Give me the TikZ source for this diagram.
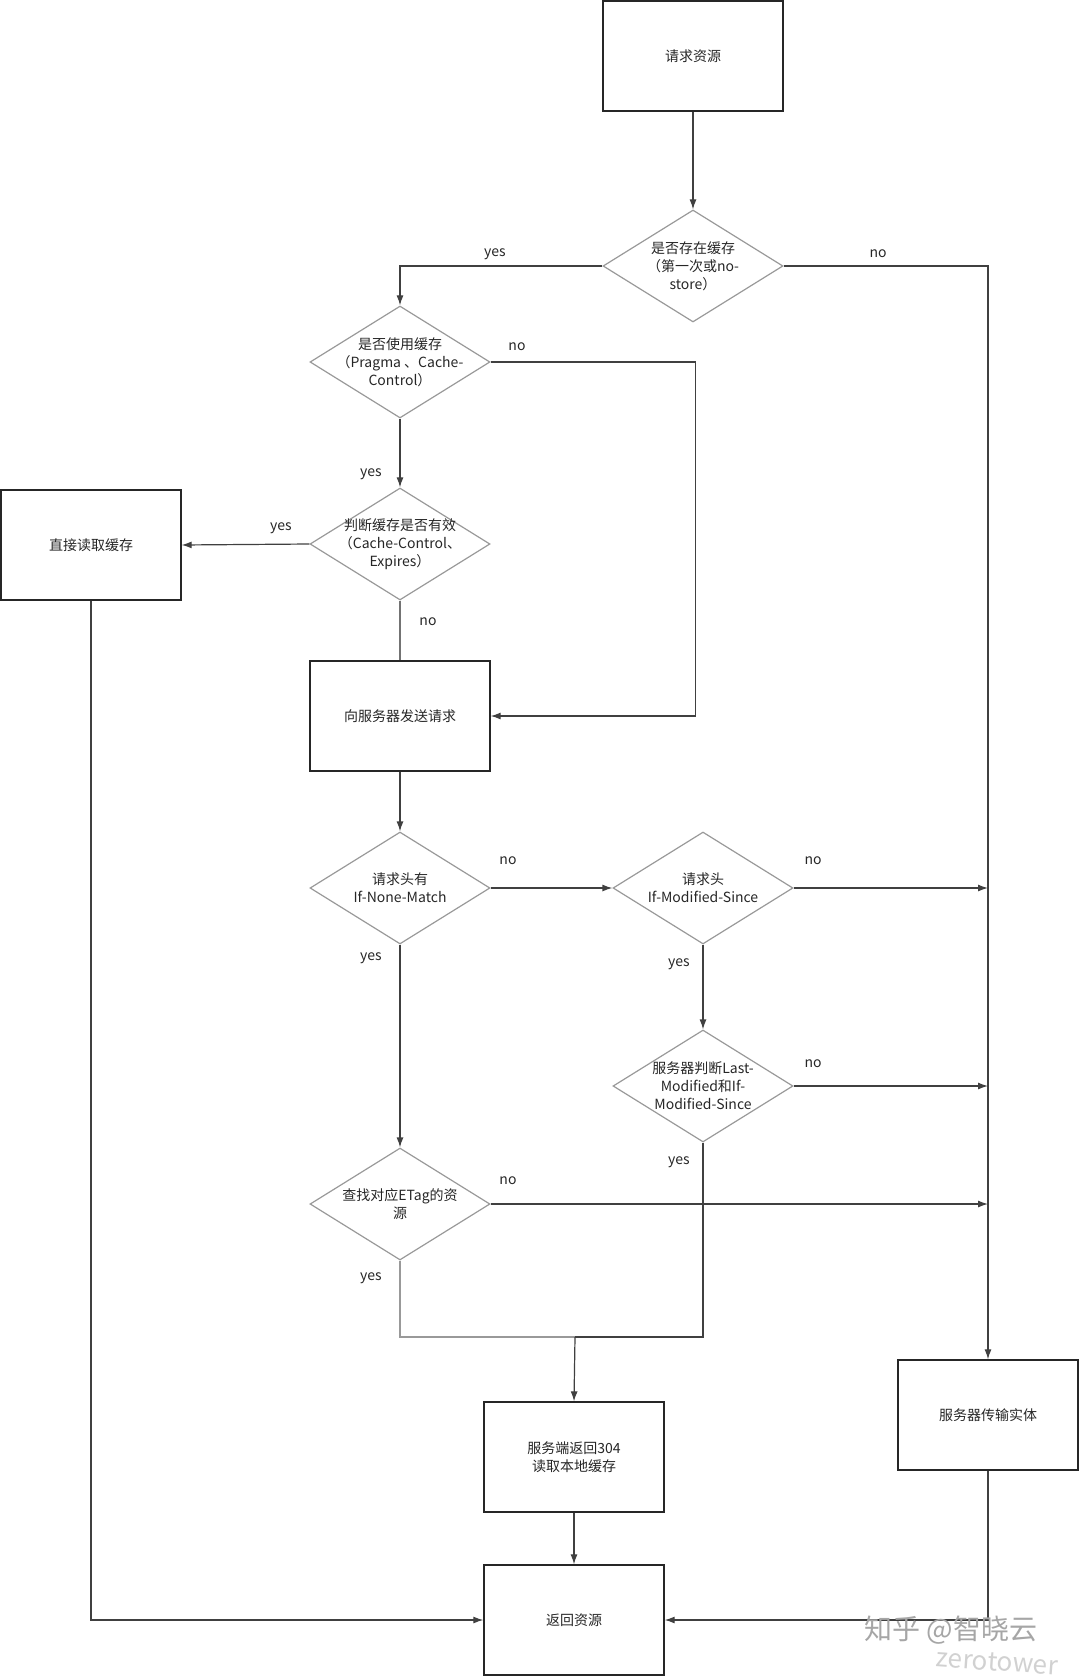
\documentclass[tikz,border=0pt]{standalone}
\usepackage{fontspec}
\setmainfont{Noto Sans CJK SC}
\usetikzlibrary{shapes.geometric,arrows.meta}

\begin{document}
\begin{tikzpicture}[x=1pt, y=-1pt, font=\fontsize{14}{18}\selectfont, >={Latex[length=10pt,width=7pt]}]
      \tikzset{
	  stepbox/.style={rectangle, draw=black!85, line width=1.3pt, minimum width=180pt, minimum height=110pt, align=center, text=black!85},
	  decision/.style={diamond, draw=black!40, line width=1.2pt, minimum width=180pt, minimum height=112pt, inner sep=0pt, label={[align=center, text=black!85]center:#1}},
	  wire/.style={draw=black!75, line width=1.2pt},
	  answer/.style={text=black!85, inner sep=1pt}
      }
      \useasboundingbox (0,0) rectangle (1080,1677);

      % boxes
      \node at (693, 56) [stepbox] (req) {请求资源};
      \node at (91, 545) [stepbox] (direct) {直接读取缓存};
      \node at (400, 716) [stepbox] (send) {向服务器发送请求};
      \node at (574, 1457) [stepbox] (r304) {服务端返回304\\读取本地缓存};
      \node at (574, 1620) [stepbox] (ret) {返回资源};
      \node at (988, 1415) [stepbox] (entity) {服务器传输实体};

      % decisions
      \node at (693, 266) [decision={是否存在缓存\\（第一次或no-\\store）}] (exist) {};
      \node at (400, 362) [decision={是否使用缓存\\（Pragma 、Cache-\\Control）}] (use) {};
      \node at (400, 544) [decision={判断缓存是否有效\\（Cache-Control、\\Expires）}] (valid) {};
      \node at (400, 888) [decision={请求头有\\If-None-Match}] (inm) {};
      \node at (703, 888) [decision={请求头\\If-Modified-Since}] (ims) {};
      \node at (703, 1086) [decision={服务器判断Last-\\Modified和If-\\Modified-Since}] (lm) {};
      \node at (400, 1204) [decision={查找对应ETag的资\\源}] (etag) {};

      % connectors
      \draw[wire,->] (req) -- (exist);
      \draw[wire,->] (exist.west) -| (use.north);
      \draw[wire,->] (exist.east) -| (entity.north);
      \draw[wire,->] (use.east) -- ++(205,0) |- (send.east);
      \draw[wire,->] (use) -- (valid);
      \draw[wire,->] (valid.west) -- (direct.east);
      \draw[wire,draw=black!55] (valid) -- (send);
      \draw[wire,->] (send) -- (inm);
      \draw[wire,->] (inm) -- (ims);
      \draw[wire,->] (ims.east) -- (ims.east -| entity);
      \draw[wire,->] (inm) -- (etag);
      \draw[wire,->] (ims) -- (lm);
      \draw[wire,->] (lm.east) -- (lm.east -| entity);
      \draw[wire,->] (etag.east) -- (etag.east -| entity);
      \coordinate (join) at (575, 1337);
      \draw[wire,draw=black!40] (etag.south) |- (join);
      \draw[wire] (lm.south) |- (join);
      \draw[wire,->] (join) -- (r304.north);
      \draw[wire,->] (r304) -- (ret);
      \draw[wire,->] (direct.south) |- (ret.west);
      \draw[wire,->] (entity.south) |- (ret.east);

      % yes / no
      \node at (495, 254) [answer] (a1) {yes};
      \node at (878, 254) [answer] (a2) {no};
      \node at (517, 347) [answer] (a3) {no};
      \node at (371, 474) [answer] (a4) {yes};
      \node at (281, 528) [answer] (a5) {yes};
      \node at (428, 622) [answer] (a6) {no};
      \node at (508, 861) [answer] (a7) {no};
      \node at (813, 861) [answer] (a8) {no};
      \node at (371, 958) [answer] (a9) {yes};
      \node at (679, 964) [answer] (a10) {yes};
      \node at (813, 1064) [answer] (a11) {no};
      \node at (679, 1162) [answer] (a12) {yes};
      \node at (508, 1181) [answer] (a13) {no};
      \node at (371, 1278) [answer] (a14) {yes};

      % watermark
      \node at (951, 1630) [text=black!35, inner sep=0pt, font=\fontsize{28}{28}\selectfont] (mark) {知乎 @智晓云};
      \node at (997, 1662) [text=black!18, inner sep=0pt, rotate=-4, font=\fontsize{26}{26}\selectfont] (mark2) {zerotower};
\end{tikzpicture}
\end{document}
